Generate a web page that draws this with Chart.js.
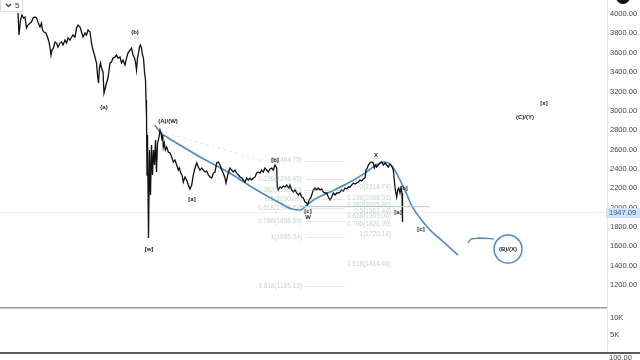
<!DOCTYPE html>
<html><head><meta charset="utf-8">
<script src="https://cdn.jsdelivr.net/npm/chart.js@4"></script>
<style>
html,body{margin:0;padding:0;background:#fff;overflow:hidden}
#wrap{position:relative;width:640px;height:360px;background:#fff}
#main{position:absolute;left:0;top:0}
#vol{position:absolute;left:0;top:307px}
</style></head><body>
<div id="wrap"><canvas id="main" width="640" height="307"></canvas><canvas id="vol" width="640" height="53"></canvas></div>
<script>
// ---- data ----
const days = [
 18,19,20.5,22,23.5,25,26.5,28,30,31.5,
 33,35,36.5,38,40,41.5,42.5,44,46,47.5,
 49,50,51,52,53.5,55,56.5,58,60,61.5,
 63,65,66.5,68,70,71.5,73,75,76.5,78,
 80,81.5,83,85,86.5,88,90,91.5,93,95,
 96.5,97.5,98.5,99.5,100.5,101.5,103,104,105.5,106.5,
 108,110,111.5,113,115,116.5,118,120,121.5,123,
 125,126.5,128,130,131.5,133,134.5,135.5,136.5,137.5,
 138.5,139.5,140.5,141.5,142.5,143.5,144.5,145.5,146,146.5,
 147,147.5,148.5,149.5,150.5,151.5,152.5,153.5,154.5,155.5,
 156.5,157.5,159,160,
 161,162,162.7,163.3,164.3,165.3,166.7,168.3,170,171.7,
 173.3,175,176.7,178.3,179.3,180.7,182,183.3,185,186.7,
 188.3,190,191.7,193.3,195,196.7,198.3,200,201.7,203.3,
 205,206.7,208.3,210,211.7,213.3,215,216.7,218.3,220,
 221.7,223.3,225,226,227.3,228.3,230,231.7,233.3,235,
 236.7,238.3,240,241.7,243.3,245,246.7,248.3,250,251.7,
 253.3,255,256.7,258.3,260,261.7,263.3,265,266.7,268.3,
 270,271.7,273.3,275,276.7,277.3,278.3,280,281.7,283.3,
 285,286.7,289,
 290,291.7,293.3,295,296.7,298.3,300,301.7,303.3,305,
 306.7,307.7,309,310.7,311.7,313.3,315,316.7,318.3,320,
 321.7,323.3,325,326.7,328.3,330,331.7,333.3,335,336.7,
 338.3,340,341.7,343.3,345,346.7,348.3,350,351.7,353.3,
 355,356.7,358.3,360,361.7,363.3,365,366,367.3,368.3,
 370,371.7,373.3,374.3,375.7,376.7,378.3,380,381.7,383.3,
 385,386.7,388.3,390,391.7,393.3,394.3,395.3,396.7,397.7,
 398.7,400,401,402,402.5
];
const close = [
 4010,3783,3938,3990,3959,3969,3855,3886,3907,3917,
 3959,3969,3959,3917,3866,3907,3835,3814,3804,3762,
 3711,3649,3576,3628,3649,3711,3700,3659,3700,3711,
 3680,3731,3700,3752,3731,3762,3783,3762,3855,3886,
 3866,3814,3762,3804,3783,3835,3814,3700,3628,3556,
 3494,3370,3287,3452,3494,3442,3401,3184,3246,3287,
 3339,3494,3504,3545,3556,3576,3545,3556,3494,3525,
 3473,3545,3597,3628,3649,3576,3545,3504,3421,3545,
 3597,3659,3680,3649,3576,3545,3401,3318,3112,2957,
 2337,2750,1686,2595,2130,2647,2337,2595,2440,2698,
 2368,2667,2729,2802,
 2771,2698,2750,2626,2667,2595,2626,2574,2564,2523,
 2471,2492,2440,2388,2409,2357,2337,2264,2316,2285,
 2233,2192,2233,2337,2409,2461,2419,2388,2409,2388,
 2368,2378,2337,2316,2306,2357,2368,2461,2471,2440,
 2388,2357,2306,2254,2316,2357,2409,2388,2368,2388,
 2357,2337,2316,2306,2285,2264,2306,2285,2306,2285,
 2306,2316,2357,2368,2357,2388,2368,2409,2388,2368,
 2399,2409,2388,2440,2409,2213,2182,2213,2202,2223,
 2213,2233,2202,
 2233,2182,2161,2182,2151,2130,2151,2109,2099,2058,
 2047,2027,2078,2099,2130,2182,2202,2182,2202,2182,
 2192,2161,2151,2151,2109,2078,2109,2151,2130,2151,
 2151,2161,2182,2171,2202,2192,2213,2213,2233,2254,
 2244,2254,2264,2285,2275,2295,2306,2388,2409,2440,
 2461,2471,2461,2409,2440,2419,2440,2461,2471,2440,
 2461,2440,2419,2450,2430,2388,2285,2182,2109,2182,
 2202,2151,2202,2151,1851
];
// hand-drawn projection path
const pathDays   = [155,160,170,185,200,215,233,250,267,280,292,300,307,315,330,350,365,376,384,392,398,404,412,420,430,440,450,458];
const pathValues = [2853,2781,2709,2616,2523,2440,2337,2223,2120,2047,1985,1975,2027,2089,2161,2264,2357,2440,2471,2430,2326,2202,2016,1892,1769,1676,1583,1510];
const hookDays   = [468,471,480,494];
const hookValues = [1635,1676,1686,1676];
const circleDay = 508, circleValue = 1572;
const levelDays = [300,430], levelValue = 2010;
const trendDays = [160,262], trendValues = [2790,2484];
const lastPrice = 1947.09;

const priceTicks  = [1200,1400,1600,1800,2000,2200,2400,2600,2800,3000,3200,3400,3600,3800,4000];
const volumeTicks = [5000,10000];

const fibRatios      = ['0','0.236','0.382','0.5','0.618','0.786','1','1.618'];
const fibLeftValues  = [2484.75,2298.45,2183.20,2090.05,1996.89,1858.59,1695.34,1185.13];
const fibRightValues = [2214.74,2098.01,2025.80,1967.44,1909.06,1826.99,1720.14,1414.46];

const waveTexts  = ['(a)','(b)','(A)/(W)','[w]','[a]','[b]','[c]','W','X','[a]','[b]','[c]','(B)/(X)','[x]','(C)/(Y)'];
const waveDays   = [104,135,168,149,192,275,308,308,376,398,404,421,508,544,525];
const waveValues = [3039,3814,2895,1572,2089,2492,1964,1903,2543,1954,2202,1779,1572,3081,2936];

const FONT = 'Liberation Sans, Arial, sans-serif';
const pts = (xs, ys) => xs.map((x,i)=>({x, y: ys[i]}));
const BLUE = '#4b8ac6';

const decor = {
  id:'decor',
  afterDatasetsDraw(chart){
    const {ctx, scales:{x:xs, y:ys}} = chart;
    ctx.save();
    ctx.font = '6.5px ' + FONT;
    ctx.textBaseline = 'middle';
    ctx.textAlign = 'right';
    fibRatios.forEach((r,i)=>{
      const y = ys.getPixelForValue(fibLeftValues[i]);
      ctx.fillStyle = 'rgba(140,170,150,0.5)';
      ctx.fillText(r + '(' + fibLeftValues[i].toFixed(2) + ')', xs.getPixelForValue(302), y);
      ctx.strokeStyle = 'rgba(170,190,180,0.35)';
      ctx.lineWidth = 1;
      ctx.beginPath(); ctx.moveTo(xs.getPixelForValue(306), Math.round(y)+0.5); ctx.lineTo(xs.getPixelForValue(345), Math.round(y)+0.5); ctx.stroke();
      const y2 = ys.getPixelForValue(fibRightValues[i]);
      ctx.fillStyle = 'rgba(140,170,150,0.5)';
      ctx.fillText(r + '(' + fibRightValues[i].toFixed(2) + ')', xs.getPixelForValue(391), y2);
    });
    ctx.font = 'bold 6px ' + FONT;
    ctx.textAlign = 'center';
    ctx.fillStyle = '#222';
    waveTexts.forEach((t,i)=>{
      ctx.fillText(t, xs.getPixelForValue(waveDays[i]), ys.getPixelForValue(waveValues[i]));
    });
    ctx.restore();
  },
  afterDraw(chart){
    const {ctx, scales:{y:ys}} = chart;
    ctx.save();
    ctx.fillStyle = '#fff';
    ctx.fillRect(0,0,23,12);
    ctx.strokeStyle = '#ddd'; ctx.lineWidth = 1;
    ctx.strokeRect(0.5,-0.5,22,12);
    ctx.strokeStyle = '#333'; ctx.lineWidth = 1.2;
    ctx.beginPath(); ctx.moveTo(6,4); ctx.lineTo(8.5,6.5); ctx.lineTo(11,4); ctx.stroke();
    ctx.fillStyle = '#333'; ctx.font = '8px ' + FONT; ctx.textBaseline = 'middle'; ctx.textAlign = 'left';
    ctx.fillText('5', 15, 5.5);
    ctx.fillStyle = '#111';
    ctx.beginPath(); ctx.arc(623,-3,7,0,Math.PI*2); ctx.fill();
    const y = ys.getPixelForValue(lastPrice);
    ctx.fillStyle = '#cfe2f7';
    ctx.fillRect(606, Math.round(y)-5, 34, 10);
    ctx.fillStyle = '#2a5b8c';
    ctx.font = '7.5px ' + FONT;
    ctx.fillText(lastPrice.toFixed(2), 609, Math.round(y));
    ctx.restore();
  }
};

const noPad = s => { s.width = 33; s.paddingTop = 0; s.paddingBottom = 0; };

new Chart(document.getElementById('main'), {
  type:'line',
  data:{datasets:[
    {data: pts([0,607],[lastPrice,lastPrice]), borderColor:'rgba(0,0,0,0.07)', borderWidth:1, pointRadius:0},
    {data: pts(trendDays,trendValues), borderColor:'rgba(225,150,150,0.35)', borderWidth:1, borderDash:[3,3], pointRadius:0},
    {data: pts(levelDays,[levelValue,levelValue]), borderColor:'#a9cbea', borderWidth:1, pointRadius:0},
    {data: pts(days,close), borderColor:'#111', borderWidth:1.3, pointRadius:0, tension:0},
    {data: pts(pathDays,pathValues), borderColor:BLUE, borderWidth:1.6, pointRadius:0, cubicInterpolationMode:'monotone'},
    {data: pts(hookDays,hookValues), borderColor:BLUE, borderWidth:1.3, pointRadius:0},
    {data: [{x:circleDay,y:circleValue}], showLine:false, pointRadius:14, pointBorderWidth:1.5, pointBorderColor:BLUE, pointBackgroundColor:'rgba(0,0,0,0)'}
  ]},
  options:{
    responsive:false, animation:false, devicePixelRatio:1,
    layout:{padding:0, autoPadding:false},
    plugins:{legend:{display:false}, tooltip:{enabled:false}},
    scales:{
      x:{type:'linear', min:0, max:607, display:false},
      y:{position:'right', min:973, max:4145,
         afterBuildTicks:s=>{s.ticks = priceTicks.map(v=>({value:v}));},
         afterFit:noPad,
         grid:{drawOnChartArea:false, drawTicks:false},
         border:{color:'#e6e6e6'},
         ticks:{padding:3, autoSkip:false, font:{size:7.5, family:FONT}, color:'#444', callback:v=>Number(v).toFixed(2)}}
    }
  },
  plugins:[decor]
});

const volDecor = {
  id:'volDecor',
  afterDraw(chart){
    const ctx = chart.ctx;
    ctx.save();
    ctx.strokeStyle = '#9a9a9a'; ctx.lineWidth = 1.5;
    ctx.beginPath(); ctx.moveTo(0,0.75); ctx.lineTo(607,0.75); ctx.stroke();
    ctx.fillStyle = '#444'; ctx.font = '7.5px ' + FONT; ctx.textBaseline = 'middle'; ctx.textAlign = 'left';
    ctx.fillText((100).toFixed(2), 609, 51);
    ctx.strokeStyle = '#5a5a5a'; ctx.lineWidth = 2;
    ctx.beginPath(); ctx.moveTo(0,46); ctx.lineTo(640,46); ctx.stroke();
    ctx.restore();
  }
};

new Chart(document.getElementById('vol'), {
  type:'line',
  data:{datasets:[{data:[]}]},
  options:{
    responsive:false, animation:false, devicePixelRatio:1,
    layout:{padding:{bottom:8}, autoPadding:false},
    plugins:{legend:{display:false}, tooltip:{enabled:false}},
    scales:{
      x:{type:'linear', min:0, max:607, display:false},
      y:{position:'right', min:0, max:13235,
         afterBuildTicks:s=>{s.ticks = volumeTicks.map(v=>({value:v}));},
         afterFit:noPad,
         grid:{drawOnChartArea:false, drawTicks:false},
         border:{color:'#e6e6e6'},
         ticks:{padding:3, font:{size:7.5, family:FONT}, color:'#444', callback:v=>(v/1000)+'K'}}
    }
  },
  plugins:[volDecor]
});
</script>
</body></html>
